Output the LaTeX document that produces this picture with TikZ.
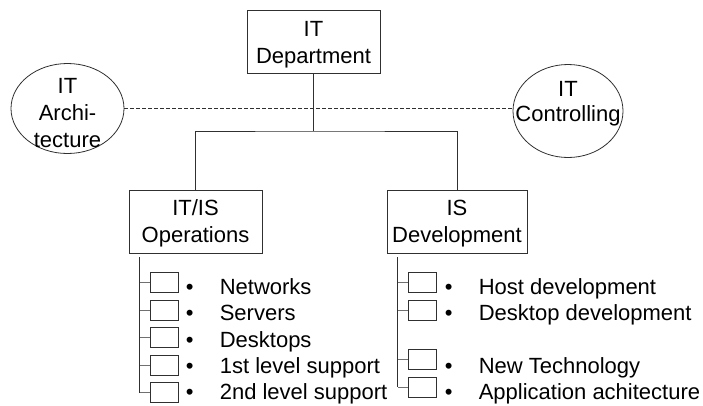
\documentclass[tikz,border=0pt]{standalone}
\usepackage{fontspec}
\setmainfont{Liberation Sans}
\usetikzlibrary{shapes.geometric}
\definecolor{ln}{HTML}{303030}
\definecolor{stubc}{HTML}{707070}
\tikzset{
  orgbox/.style={draw=ln, line width=0.9pt, rectangle, inner sep=0pt, align=center,
    font=\fontsize{22}{27}\selectfont},
  oval/.style={draw=ln, line width=0.8pt, ellipse, inner sep=0pt},
  ovaltext/.style={align=center, inner sep=0pt, font=\fontsize{22}{27}\selectfont},
  conn/.style={draw=ln, line width=0.9pt},
  stub/.style={draw=stubc, line width=0.9pt},
  minibox/.style={draw=ln, line width=0.8pt, rectangle, inner sep=0pt, minimum width=28pt, minimum height=20pt},
  item/.style={anchor=base west, inner sep=0pt, font=\fontsize{22}{26}\selectfont},
}
\newcommand{\itm}[1]{\makebox[34pt][l]{•}#1}
\newcommand{\topstrut}[1]{\rule{0pt}{#1}}
\begin{document}
\begin{tikzpicture}[x=1pt,y=-1pt]
\useasboundingbox (0,0) rectangle (703,405);
% main boxes
\node[orgbox, minimum width=133pt, minimum height=63pt] (dept) at (313.5,41.5) {\topstrut{22pt}IT\\Department};
\node[orgbox, minimum width=133pt, minimum height=63pt] (ops) at (195.5,221.5) {\topstrut{20pt}IT/IS\\Operations};
\node[orgbox, minimum width=140pt, minimum height=63pt] (dev) at (457,221.5) {\topstrut{20pt}IS\\Development};
% ellipses
\node[oval, minimum width=113pt, minimum height=90pt] (arch) at (67.5,108.5) {};
\node[ovaltext] (archt) at (67.5,113) {IT\\Archi-\\tecture};
\node[oval, minimum width=110pt, minimum height=93pt] (ctrl) at (568,111) {};
\node[ovaltext, font=\fontsize{22}{25}\selectfont] (ctrlt) at (568,104) {IT\\Controlling};
% connectors
\coordinate (j) at (313.5,131);
\draw[conn] (dept.south) -- (j);
\draw[conn] (ops.north) |- (j) -| (dev.north);
\draw[conn, dash pattern=on 3.5pt off 2.5pt] (arch.east) -- (arch.east -| ctrl.west);
% left list
\coordinate (lt) at (139.3,257);
\foreach \i/\t/\b/\txt in {1/272.7/294.5/Networks,2/300.2/320.75/Servers,3/327.7/347/Desktops,4/355.2/373.25/1st level support,5/382.7/399.5/2nd level support}{
  \node[minibox] (l\i) at (164,\t+10) {};
  \draw[stub] (l\i.west) -- (l\i.west -| lt);
  \node[item] (lx\i) at (185.6,\b) {\itm{\txt}};
}
\draw[conn] (lt) -- (l5.west -| lt);
% right list
\coordinate (rt) at (397.8,257);
\foreach \i/\t/\b/\txt in {1/272.7/294.5/Host development,2/300.2/320.75/Desktop development,3/349.5/373.25/New Technology,4/377/399.5/Application achitecture}{
  \node[minibox] (r\i) at (422.5,\t+10) {};
  \draw[stub] (r\i.west) -- (r\i.west -| rt);
  \node[item] (rx\i) at (444.6,\b) {\itm{\txt}};
}
\draw[conn] (rt) -- (r4.west -| rt);
\end{tikzpicture}
\end{document}
